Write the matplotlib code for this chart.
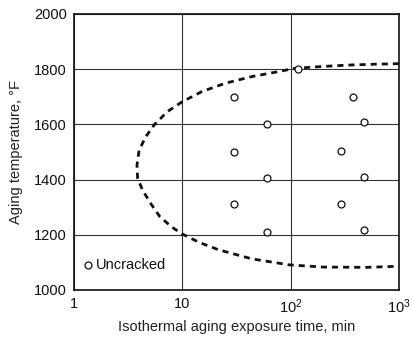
import matplotlib
matplotlib.use('Agg')
from matplotlib import pyplot as plt

plt.rcParams['font.family'] = ['Liberation Sans', 'DejaVu Sans']
plt.rcParams['mathtext.fontset'] = 'custom'
plt.rcParams['mathtext.rm'] = 'Liberation Sans'

# uncracked specimens (time min, temperature F)
uncracked_t = [30, 30, 30, 60, 60, 60, 118, 380, 473, 293, 473, 293, 473]
uncracked_T = [1700, 1500, 1310, 1600, 1405, 1210, 1800, 1700, 1610, 1505, 1410, 1310, 1217]

# C-curve boundary
curve_t = [1000, 600, 350, 200, 109, 76.5, 43.7, 24.9, 15.2, 10, 7.27, 5.5, 4.6, 4.0, 3.82,
           3.87, 4.3, 5.1, 6.2, 8.0, 10, 14.2, 21.5, 43.6, 97, 200, 500, 1000]
curve_T = [1820, 1818, 1815, 1810, 1803, 1791, 1773, 1749, 1719, 1682, 1646, 1598, 1555, 1507, 1453,
           1405, 1362, 1314, 1266, 1228, 1203, 1173, 1146, 1113, 1091, 1083, 1082, 1086]

xticks = [1, 10, 100, 1000]
xticklabels = ['1', '10', r'$\mathregular{10^2}$', r'$\mathregular{10^3}$']
yticks = [1000, 1200, 1400, 1600, 1800, 2000]

fig = plt.figure(figsize=(4.13, 3.41), dpi=100)
ax = fig.add_axes([0.179, 0.1496, 0.787, 0.8094])

ax.plot(curve_t, curve_T, color='#111111', lw=2.0, linestyle=(0, (2.2, 1.8)), zorder=3)
ax.plot(uncracked_t, uncracked_T, 'o', mfc='white', mec='#111111', ms=5, mew=0.9,
        linestyle='none', zorder=4)

ax.set_xscale('log')
ax.set_xlim(1, 1000)
ax.set_ylim(1000, 2000)
ax.set_xticks(xticks)
ax.set_xticklabels(xticklabels)
ax.minorticks_off()
ax.set_yticks(yticks)
ax.tick_params(length=0, labelsize=10.5, pad=5, colors='#111111')
ax.grid(True, color='#333333', lw=0.8)
for s in ax.spines.values():
    s.set_linewidth(1.2)
    s.set_color('#111111')

ax.set_xlabel('Isothermal aging exposure time, min', fontsize=10.5, color='#222222', labelpad=3)
ax.set_ylabel('Aging temperature, \u00b0F', fontsize=10.5, color='#222222', labelpad=8)

# legend drawn as a marker plus text
ax.plot([1.34], [1090], 'o', mfc='white', mec='#111111', ms=5, mew=0.9)
ax.text(1.6, 1090, 'Uncracked', fontsize=10.5, va='center', ha='left', color='#111111')

fig.savefig('out.png', dpi=100)
